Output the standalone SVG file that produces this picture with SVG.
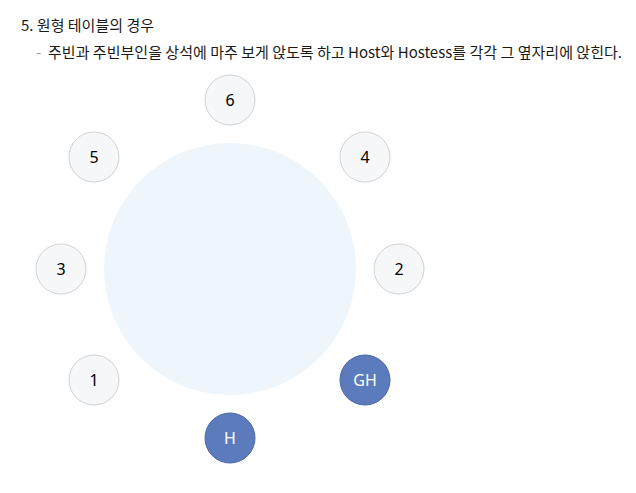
<svg xmlns="http://www.w3.org/2000/svg" width="636" height="493" viewBox="0 0 636 493">
<style>
.t{font-family:"Noto Sans CJK KR","Noto Sans",sans-serif;fill:#1a1a1a;font-size:15px}
.seat circle{fill:#f6f7f9;stroke:#cfd2d6;stroke-width:1}
.seat text{font-family:"Noto Sans","Open Sans",sans-serif;font-size:16px;fill:#000;text-anchor:middle;dominant-baseline:central}
.host circle{fill:#5b7bbd;stroke:#4a67a6;stroke-width:1}
.host text{font-family:"Noto Sans","Open Sans",sans-serif;font-size:16px;fill:#fff;text-anchor:middle;dominant-baseline:central}
</style>
<rect width="636" height="493" fill="#fff"/>
<text class="t" x="21" y="31" textLength="133" lengthAdjust="spacingAndGlyphs">5. 원형 테이블의 경우</text>
<text class="t" x="36" y="58" style="fill:#9a9a9a">-</text>
<text class="t" x="48" y="58" textLength="574" lengthAdjust="spacingAndGlyphs">주빈과 주빈부인을 상석에 마주 보게 앉도록 하고 Host와 Hostess를 각각 그 옆자리에 앉힌다.</text>
<g id="table"><circle cx="230" cy="269" r="126" fill="#eef6fb"/></g>
<g id="connectors"/>
<g id="seat6" class="seat"><circle cx="230" cy="100" r="25"/><text x="230" y="100">6</text></g>
<g id="seat5" class="seat"><circle cx="94" cy="157" r="25"/><text x="94" y="157">5</text></g>
<g id="seat4" class="seat"><circle cx="365" cy="157" r="25"/><text x="365" y="157">4</text></g>
<g id="seat3" class="seat"><circle cx="61" cy="269" r="25"/><text x="61" y="269">3</text></g>
<g id="seat2" class="seat"><circle cx="399" cy="269" r="25"/><text x="399" y="269">2</text></g>
<g id="seat1" class="seat"><circle cx="94" cy="380" r="25"/><text x="94" y="380">1</text></g>
<g id="seatGH" class="host"><circle cx="365" cy="380" r="25"/><text x="365" y="380">GH</text></g>
<g id="seatH" class="host"><circle cx="230" cy="438" r="25"/><text x="230" y="438">H</text></g>
</svg>
